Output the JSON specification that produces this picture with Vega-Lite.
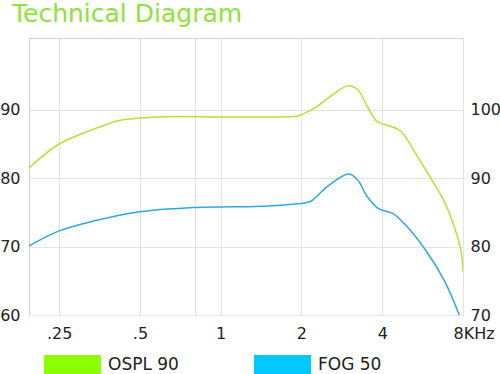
{
  "$schema": "https://vega.github.io/schema/vega-lite/v6.json",
  "width": 434,
  "height": 277,
  "autosize": "none",
  "padding": {"left": 29, "top": 38, "right": 37, "bottom": 59},
  "background": "white",
  "title": {
    "text": "Technical Diagram",
    "anchor": "start",
    "frame": "group",
    "dx": -17,
    "offset": 11,
    "font": "DejaVu Sans",
    "fontSize": 25,
    "fontWeight": "normal",
    "color": "#8de33a"
  },
  "config": {
    "view": {"stroke": "#cfcfcf", "strokeWidth": 1},
    "axis": {
      "labelFont": "DejaVu Sans",
      "labelFontSize": 16,
      "labelColor": "#222222",
      "domain": false,
      "ticks": false,
      "title": null,
      "gridColor": "#e3e3e3",
      "gridWidth": 1
    }
  },
  "data": {
    "values": [
      {"s": "OSPL 90", "f": 0.193, "v": 91.5},
      {"s": "OSPL 90", "f": 0.25, "v": 95.0},
      {"s": "OSPL 90", "f": 0.333, "v": 97.1},
      {"s": "OSPL 90", "f": 0.418, "v": 98.45},
      {"s": "OSPL 90", "f": 0.5, "v": 98.8},
      {"s": "OSPL 90", "f": 0.624, "v": 99.0},
      {"s": "OSPL 90", "f": 1.0, "v": 98.95},
      {"s": "OSPL 90", "f": 1.35, "v": 98.95},
      {"s": "OSPL 90", "f": 1.93, "v": 99.1},
      {"s": "OSPL 90", "f": 2.03, "v": 99.4},
      {"s": "OSPL 90", "f": 2.29, "v": 100.5},
      {"s": "OSPL 90", "f": 2.57, "v": 102.0},
      {"s": "OSPL 90", "f": 2.98, "v": 103.5},
      {"s": "OSPL 90", "f": 3.23, "v": 103.0},
      {"s": "OSPL 90", "f": 3.52, "v": 100.5},
      {"s": "OSPL 90", "f": 3.83, "v": 98.3},
      {"s": "OSPL 90", "f": 4.3, "v": 97.6},
      {"s": "OSPL 90", "f": 4.68, "v": 96.9},
      {"s": "OSPL 90", "f": 5.41, "v": 93.2},
      {"s": "OSPL 90", "f": 6.06, "v": 90.0},
      {"s": "OSPL 90", "f": 6.77, "v": 86.8},
      {"s": "OSPL 90", "f": 7.33, "v": 83.5},
      {"s": "OSPL 90", "f": 7.86, "v": 79.5},
      {"s": "OSPL 90", "f": 8.0, "v": 76.3},
      {"s": "FOG 50", "f": 0.193, "v": 70.1},
      {"s": "FOG 50", "f": 0.25, "v": 72.3},
      {"s": "FOG 50", "f": 0.333, "v": 73.7},
      {"s": "FOG 50", "f": 0.5, "v": 75.1},
      {"s": "FOG 50", "f": 0.785, "v": 75.7},
      {"s": "FOG 50", "f": 1.0, "v": 75.8},
      {"s": "FOG 50", "f": 1.35, "v": 75.85},
      {"s": "FOG 50", "f": 1.93, "v": 76.25},
      {"s": "FOG 50", "f": 2.16, "v": 76.6},
      {"s": "FOG 50", "f": 2.5, "v": 78.8},
      {"s": "FOG 50", "f": 3.0, "v": 80.6},
      {"s": "FOG 50", "f": 3.23, "v": 79.8},
      {"s": "FOG 50", "f": 3.52, "v": 77.3},
      {"s": "FOG 50", "f": 3.89, "v": 75.5},
      {"s": "FOG 50", "f": 4.36, "v": 74.9},
      {"s": "FOG 50", "f": 4.82, "v": 73.4},
      {"s": "FOG 50", "f": 5.73, "v": 69.8},
      {"s": "FOG 50", "f": 6.8, "v": 65.1},
      {"s": "FOG 50", "f": 7.75, "v": 60.0}
    ]
  },
  "encoding": {
    "x": {
      "field": "f",
      "type": "quantitative",
      "scale": {"type": "log", "domain": [0.193, 8], "nice": false},
      "axis": {
        "values": [0.25, 0.5, 0.8, 1, 2, 4, 8],
        "grid": true,
        "labelPadding": 10,
        "labelFlush": false,
        "labelBound": false,
        "labelOverlap": false,
        "labelExpr": "datum.value == 0.25 ? '.25' : datum.value == 0.5 ? '.5' : datum.value == 0.8 ? '' : datum.value == 1 ? '1' : datum.value == 2 ? '2' : datum.value == 4 ? '4' : '8KHz'",
        "labelAlign": {"condition": {"test": "datum.value == 8", "value": "left"}, "value": "center"},
        "labelOffset": {"condition": {"test": "datum.value == 8", "value": -10}, "value": 0}
      }
    },
    "color": {
      "field": "s",
      "type": "nominal",
      "scale": {"domain": ["OSPL 90", "FOG 50"], "range": ["#b2e236", "#2fa8dc"]},
      "legend": {
        "title": null,
        "orient": "none",
        "direction": "horizontal",
        "legendX": 15,
        "legendY": 298,
        "padding": 0,
        "symbolType": "M-1,-0.333H1V0.333H-1Z",
        "symbolSize": 3249,
        "symbolStrokeWidth": 0,
        "labelFont": "DejaVu Sans",
        "labelFontSize": 17,
        "labelColor": "#222222",
        "labelOffset": 7,
        "columnPadding": 75,
        "encode": {
          "symbols": {
            "update": {
              "fill": {"signal": "datum.value === 'OSPL 90' ? '#8cff00' : '#00c8ff'"},
              "opacity": {"value": 1}
            }
          }
        }
      }
    }
  },
  "layer": [
    {
      "transform": [{"filter": "datum.s === 'FOG 50'"}],
      "mark": {"type": "line", "interpolate": "catmull-rom", "strokeWidth": 1.5, "clip": true},
      "encoding": {
        "y": {
          "field": "v",
          "type": "quantitative",
          "scale": {"domain": [60, 100.5], "nice": false, "zero": false},
          "axis": {"values": [60, 70, 80, 90], "grid": true, "labelPadding": 9}
        }
      }
    },
    {
      "transform": [{"filter": "datum.s === 'OSPL 90'"}],
      "mark": {"type": "line", "interpolate": "catmull-rom", "strokeWidth": 1.5, "clip": true},
      "encoding": {
        "y": {
          "field": "v",
          "type": "quantitative",
          "scale": {"domain": [70, 110.5], "nice": false, "zero": false},
          "axis": {"orient": "right", "values": [70, 80, 90, 100], "grid": false, "labelPadding": 7}
        }
      }
    }
  ],
  "resolve": {"scale": {"y": "independent"}}
}
